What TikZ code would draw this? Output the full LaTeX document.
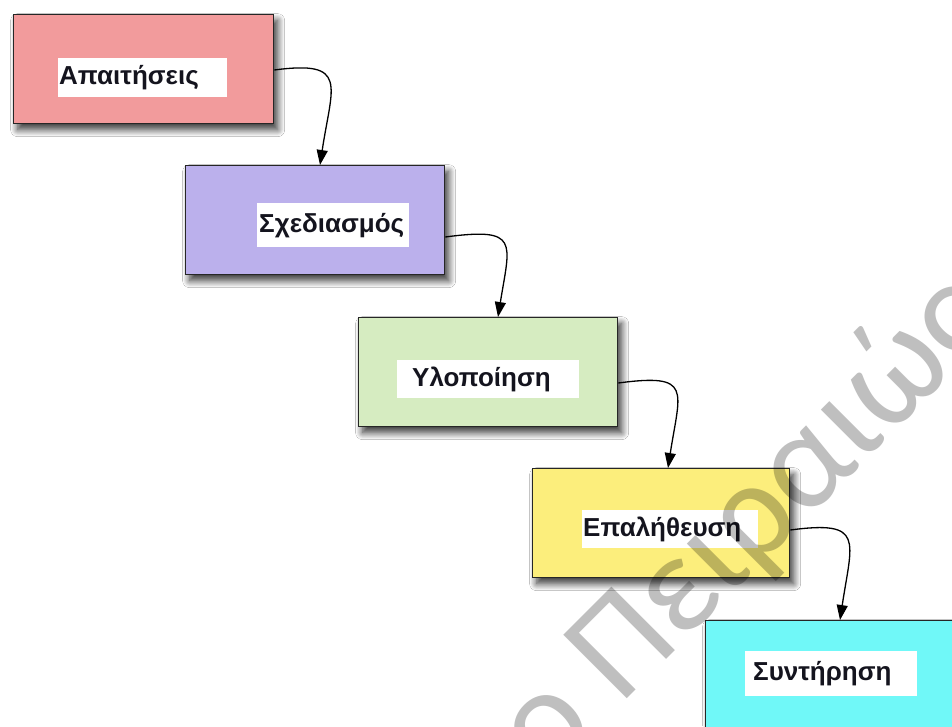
\documentclass[tikz,border=0pt]{standalone}
\usepackage{fontspec}
\setmainfont{Liberation Sans}
\newfontfamily\wmfont{Carlito}
\usetikzlibrary{arrows.meta,shadows.blur}
\definecolor{cpink}{RGB}{242,155,156}
\definecolor{cpurple}{RGB}{187,176,236}
\definecolor{cgreen}{RGB}{214,236,193}
\definecolor{cyellow}{RGB}{252,238,124}
\definecolor{ccyan}{RGB}{112,248,248}
\definecolor{ctext}{RGB}{20,20,30}
\tikzset{
  stage/.style={draw=black!85, line width=1.3pt, anchor=north west,
    minimum width=260pt, minimum height=109pt, inner sep=0pt,
    blur shadow={shadow xshift=4pt, shadow yshift=-6pt, shadow blur radius=7pt,
      shadow blur steps=12, shadow opacity=80}},
  lbl/.style={fill=white, anchor=north west, text=ctext,
    font=\bfseries\fontsize{26}{30}\selectfont, align=left, inner ysep=0pt},
  conn/.style={line width=1.3pt, -{Triangle[length=15pt,width=11pt]}},
}
\begin{document}
\begin{tikzpicture}[x=1pt,y=-1pt]
\useasboundingbox[fill=white] (0,0) rectangle (952,726);
\begin{scope}
\clip (0,0) rectangle (952,726);
\node[stage, fill=cpink]   (b1) at (13,14) {};
\node[stage, fill=cpurple, minimum width=259pt] (b2) at (185,165) {};
\node[stage, fill=cgreen,  minimum width=259pt] (b3) at (358,317) {};
\node[stage, fill=cyellow, minimum width=257pt] (b4) at (532,468) {};
\node[stage, fill=ccyan]   (b5) at (705,620) {};

\node[lbl, minimum height=39pt, text width=167pt, inner xsep=1pt]  (l1) at (58,58)   {Απαιτήσεις};
\node[lbl, minimum height=44pt, text width=148pt, inner xsep=2pt]  (l2) at (257,203) {Σχεδιασμός};
\node[lbl, minimum height=38pt, text width=152pt, inner xsep=15pt] (l3) at (397,360) {Υλοποίηση};
\node[lbl, minimum height=38pt, text width=174pt, inner xsep=1pt]  (l4) at (582,510) {Επαλήθευση};
\node[lbl, minimum height=45pt, text width=156pt, inner xsep=8pt]  (l5) at (745,651) {Συντήρηση};

\draw[conn] ([yshift=-56pt]b1.north east) .. controls +(75,-10) and +(12,-80) .. ([xshift=135pt]b2.north west);
\draw[conn] ([yshift=-72pt]b2.north east) .. controls +(75,-10) and +(12,-75) .. ([xshift=140pt]b3.north west);
\draw[conn] ([yshift=-66pt]b3.north east) .. controls +(75,-10) and +(12,-78) .. ([xshift=136pt]b4.north west);
\draw[conn] ([yshift=-62pt]b4.north east) .. controls +(75,-10) and +(12,-80) .. ([xshift=135pt]b5.north west);

\begin{scope}[blend mode=multiply]
\node[anchor=base west, rotate=45, inner sep=0pt, text=black!25,
  font=\wmfont\fontsize{140}{140}\selectfont] (wm) at (546,780) {ο Πειραιώς};
\end{scope}
\end{scope}
\end{tikzpicture}
\end{document}
